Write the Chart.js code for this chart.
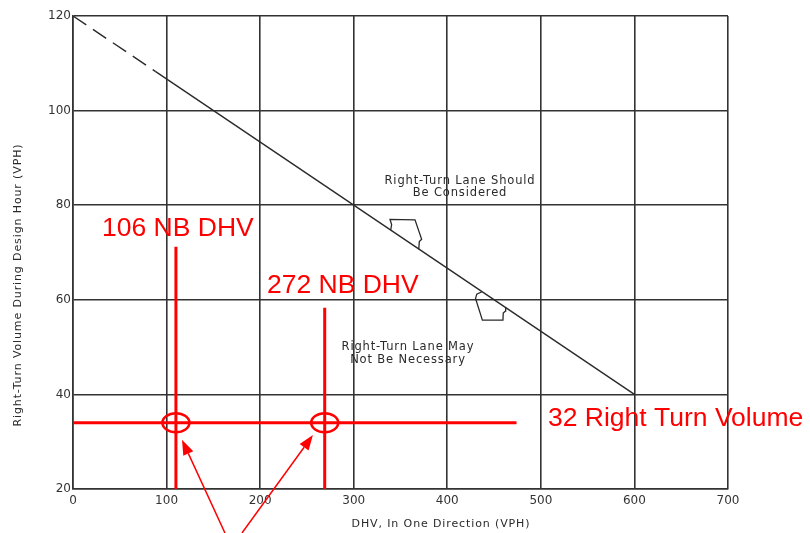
<!DOCTYPE html>
<html>
<head>
<meta charset="utf-8">
<script src="https://cdn.jsdelivr.net/npm/chart.js@4/dist/chart.umd.min.js"></script>
<style>
  html, body { margin: 0; padding: 0; background: #fff; }
  #rtChart { display: block; }
</style>
</head>
<body>
<canvas id="rtChart" width="810" height="533"></canvas>
<script>
// axis ranges / ticks
const xTicks = [0, 100, 200, 300, 400, 500, 600, 700];
const yTicks = [20, 40, 60, 80, 100, 120];

// warrant boundary line (dashed part, then solid)
const boundaryDashed = [{ x: 0, y: 120 }, { x: 88, y: 108.3 }];
const boundarySolid = [{ x: 88, y: 108.3 }, { x: 600, y: 40 }];

// hollow block arrows sitting on the boundary
const arrowConsider = [
  { x: 339.5, y: 74.7 }, { x: 340.5, y: 75.9 }, { x: 338.8, y: 77.0 },
  { x: 365.5, y: 76.9 }, { x: 372.6, y: 72.8 }, { x: 370.1, y: 72.3 },
  { x: 369.5, y: 70.7 }
];
const arrowNotNeeded = [
  { x: 437, y: 61.7 }, { x: 431.5, y: 61.2 }, { x: 430.2, y: 60.3 },
  { x: 437.5, y: 55.7 }, { x: 459.5, y: 55.7 }, { x: 459.8, y: 57.2 },
  { x: 462, y: 57.6 }, { x: 462.4, y: 58.4 }
];

// red markup
const rightTurnVolume = [{ x: 0, y: 34 }, { x: 474, y: 34 }];
const nb106Line = [{ x: 110, y: 71.2 }, { x: 110, y: 20 }];
const nb272Line = [{ x: 269, y: 58.3 }, { x: 269, y: 20 }];
const circleCenters = [{ x: 110, y: 34 }, { x: 269, y: 34 }];
const pointerArrows = [
  { from: { x: 162.4, y: 10.7 }, to: { x: 116.5, y: 30.4 } },
  { from: { x: 180.6, y: 10.7 }, to: { x: 256.4, y: 31.4 } }
];
const redLabels = [
  { text: '106 NB DHV', x: 31, y: 75.0 },
  { text: '272 NB DHV', x: 207.3, y: 62.9 },
  { text: '32 Right Turn Volume', x: 507.6, y: 34.8 }
];
const regionLabels = [
  { text: 'Right-Turn Lane Should', x: 413.6, y: 85.1 },
  { text: 'Be Considered', x: 413.6, y: 82.6 },
  { text: 'Right-Turn Lane May', x: 358, y: 50.0 },
  { text: 'Not Be Necessary', x: 358, y: 47.3 }
];
const xTitle = 'DHV, In One Direction (VPH)';
const yTitle = 'Right-Turn Volume During Design Hour (VPH)';

const RED = '#ff0000';
const INK = '#2a2a2a';

function lineSet(data, color, width, dash) {
  return {
    data: data,
    showLine: true,
    borderColor: color,
    borderWidth: width,
    borderDash: dash || [],
    pointRadius: 0,
    fill: false
  };
}

const markupPlugin = {
  id: 'markup',
  afterDatasetsDraw(chart) {
    const ctx = chart.ctx;
    const xs = chart.scales.x, ys = chart.scales.y;
    const px = v => xs.getPixelForValue(v);
    const py = v => ys.getPixelForValue(v);
    ctx.save();

    // region texts
    ctx.fillStyle = INK;
    ctx.font = '11.5px "DejaVu Sans"';
    ctx.letterSpacing = '0.85px';
    ctx.textAlign = 'center';
    ctx.textBaseline = 'middle';
    regionLabels.forEach(l => ctx.fillText(l.text, px(l.x), py(l.y)));

    // axis titles
    ctx.font = '11px "DejaVu Sans"';
    ctx.letterSpacing = '0.88px';
    ctx.fillText(xTitle, 441, 524);
    ctx.save();
    ctx.translate(18, 285);
    ctx.rotate(-Math.PI / 2);
    ctx.fillText(yTitle, 0, 0);
    ctx.restore();
    ctx.letterSpacing = '0px';

    // circles
    ctx.strokeStyle = RED;
    ctx.lineWidth = 2.5;
    circleCenters.forEach(c => {
      ctx.beginPath();
      ctx.ellipse(px(c.x), py(c.y), 13.5, 9.5, 0, 0, Math.PI * 2);
      ctx.stroke();
    });

    // pointer arrows
    ctx.lineWidth = 1.5;
    ctx.fillStyle = RED;
    pointerArrows.forEach(a => {
      const x0 = px(a.from.x), y0 = py(a.from.y);
      const x1 = px(a.to.x), y1 = py(a.to.y);
      const ang = Math.atan2(y1 - y0, x1 - x0);
      const hl = 15, hw = 5.5;
      const bx = x1 - hl * Math.cos(ang), by = y1 - hl * Math.sin(ang);
      ctx.beginPath();
      ctx.moveTo(x0, y0);
      ctx.lineTo(bx, by);
      ctx.stroke();
      ctx.beginPath();
      ctx.moveTo(x1, y1);
      ctx.lineTo(bx + hw * Math.sin(ang), by - hw * Math.cos(ang));
      ctx.lineTo(bx - hw * Math.sin(ang), by + hw * Math.cos(ang));
      ctx.closePath();
      ctx.fill();
    });

    // red labels
    ctx.font = '26.5px "Liberation Sans", Arial, sans-serif';
    ctx.textAlign = 'left';
    ctx.textBaseline = 'middle';
    redLabels.forEach(l => ctx.fillText(l.text, px(l.x), py(l.y)));

    ctx.restore();
  }
};

new Chart(document.getElementById('rtChart'), {
  type: 'scatter',
  data: {
    datasets: [
      lineSet(boundaryDashed, INK, 1.4, [16, 8]),
      lineSet(boundarySolid, INK, 1.4),
      lineSet(arrowConsider, INK, 1.3),
      lineSet(arrowNotNeeded, INK, 1.3),
      lineSet(rightTurnVolume, RED, 3),
      lineSet(nb106Line, RED, 3),
      lineSet(nb272Line, RED, 3)
    ]
  },
  options: {
    responsive: false,
    animation: false,
    layout: { padding: { top: 16, right: 82, left: 0, bottom: 0 } },
    plugins: { legend: { display: false }, tooltip: { enabled: false } },
    scales: {
      x: {
        type: 'linear',
        min: xTicks[0],
        max: xTicks[xTicks.length - 1],
        afterBuildTicks: s => { s.ticks = xTicks.map(v => ({ value: v })); },
        afterFit: s => { s.height = 44; },
        grid: { color: '#333', lineWidth: 1.6, drawTicks: false },
        border: { color: '#333', width: 1.6 },
        ticks: { color: '#333', padding: 5, font: { family: 'DejaVu Sans', size: 12 } }
      },
      y: {
        type: 'linear',
        min: yTicks[0],
        max: yTicks[yTicks.length - 1],
        afterBuildTicks: s => { s.ticks = yTicks.map(v => ({ value: v })); },
        afterFit: s => { s.width = 73; },
        grid: { color: '#333', lineWidth: 1.6, drawTicks: false },
        border: { color: '#333', width: 1.6 },
        ticks: { color: '#333', padding: 2, font: { family: 'DejaVu Sans', size: 12 } }
      }
    }
  },
  plugins: [markupPlugin]
});
</script>
</body>
</html>
